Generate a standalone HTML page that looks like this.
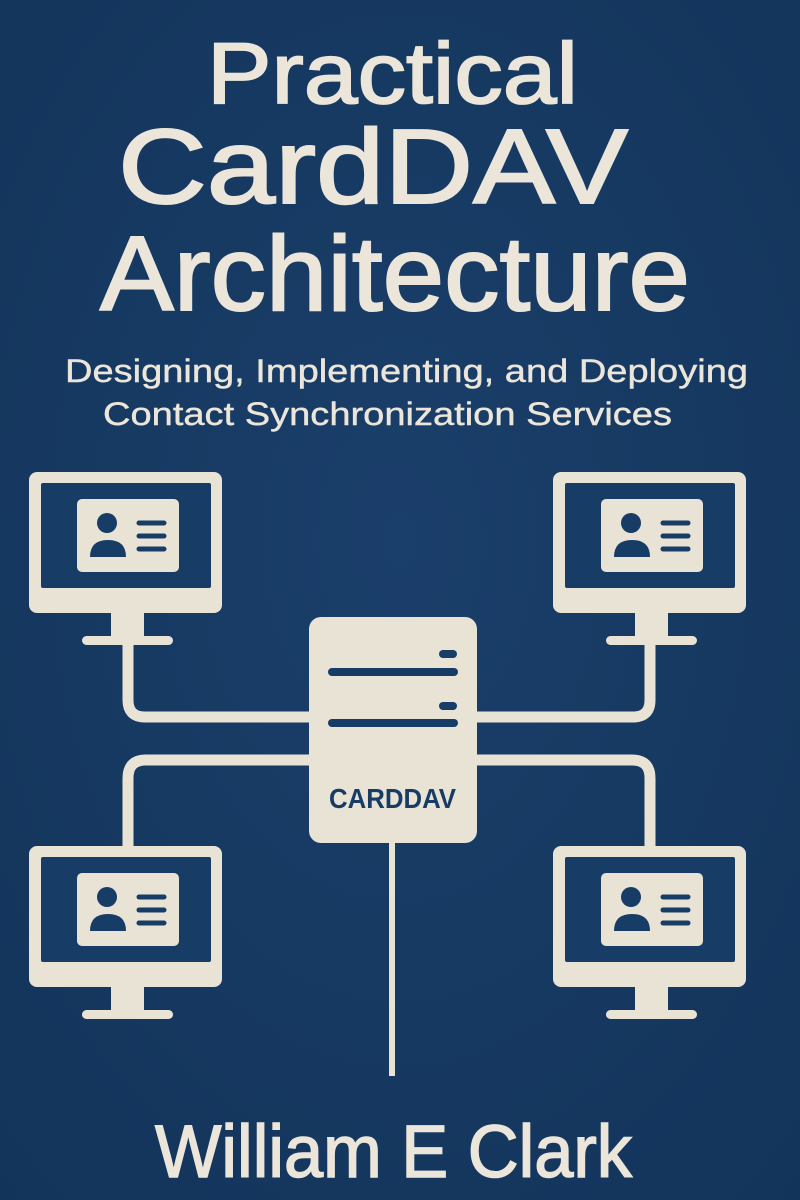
<!DOCTYPE html>
<html><head><meta charset="utf-8"><style>
html,body{margin:0;padding:0;background:#163a63;}
svg{display:block}
</style></head><body>
<svg width="800" height="1200" viewBox="0 0 800 1200" xmlns="http://www.w3.org/2000/svg">
<defs>
<radialGradient id="bg" cx="50%" cy="45%" r="75%">
<stop offset="0" stop-color="#1a3f6a"/><stop offset="1" stop-color="#13345a"/>
</radialGradient>
<g id="mon">
<rect x="0" y="0" width="193" height="141" rx="8" fill="#e9e3d6"/>
<rect x="12" y="11" width="170" height="105" rx="2" fill="#173c66"/>
<rect x="48" y="27" width="102" height="73" rx="5" fill="#e9e3d6"/>
<circle cx="78" cy="51" r="10" fill="#173c66"/>
<path d="M61 85 Q61 68 79 68 Q97 68 97 85 Z" fill="#173c66"/>
<g stroke="#173c66" stroke-width="5" stroke-linecap="round">
<line x1="110" y1="51" x2="135" y2="51"/><line x1="110" y1="64" x2="135" y2="64"/><line x1="110" y1="77" x2="135" y2="77"/>
</g>
<rect x="82" y="140" width="33" height="26" fill="#e9e3d6"/>
<rect x="53" y="164" width="91" height="9" rx="4.5" fill="#e9e3d6"/>
</g>
</defs>
<rect width="800" height="1200" fill="url(#bg)"/>
<g fill="#ece6da" stroke="#ece6da" font-family="Liberation Sans, sans-serif" text-anchor="start">
<text x="207" y="103" font-size="86" stroke-width="1.8" textLength="371" lengthAdjust="spacingAndGlyphs">Practical</text>
<text x="118" y="203" font-size="106" stroke-width="2" textLength="510" lengthAdjust="spacingAndGlyphs">CardDAV</text>
<text x="100" y="310" font-size="106" stroke-width="2" textLength="590" lengthAdjust="spacingAndGlyphs">Architecture</text>
<text x="65" y="382" font-size="32" stroke-width="0.4" textLength="683" lengthAdjust="spacingAndGlyphs">Designing, Implementing, and Deploying</text>
<text x="103" y="425" font-size="32" stroke-width="0.4" textLength="569" lengthAdjust="spacingAndGlyphs">Contact Synchronization Services</text>
<text x="155" y="1177" font-size="74" stroke-width="1.5" textLength="477" lengthAdjust="spacingAndGlyphs">William E Clark</text>
</g>
<g fill="none" stroke="#e9e3d6" stroke-width="11">
<path d="M128 645 V700 Q128 717 145 717 H312"/>
<path d="M650 645 V700 Q650 717 633 717 H475"/>
<path d="M128 846 V778 Q128 760 146 760 H312"/>
<path d="M650 846 V778 Q650 760 632 760 H475"/>
</g>
<line x1="392" y1="843" x2="392" y2="1076" stroke="#e9e3d6" stroke-width="6"/>
<use href="#mon" x="29" y="472"/>
<use href="#mon" x="553" y="472"/>
<use href="#mon" x="29" y="846"/>
<use href="#mon" x="553" y="846"/>
<rect x="309" y="617" width="168" height="226" rx="12" fill="#e9e3d6"/>
<g stroke="#173c66" stroke-linecap="round">
<line x1="332" y1="672" x2="454" y2="672" stroke-width="8"/>
<line x1="332" y1="723" x2="454" y2="723" stroke-width="8"/>
<line x1="443" y1="654" x2="453" y2="654" stroke-width="8"/>
<line x1="443" y1="706" x2="453" y2="706" stroke-width="8"/>
</g>
<text x="329" y="808" font-family="Liberation Sans Narrow, Liberation Sans, sans-serif" font-weight="bold" font-size="28" fill="#173c66" textLength="127" lengthAdjust="spacingAndGlyphs">CARDDAV</text>
</svg>
</body></html>
